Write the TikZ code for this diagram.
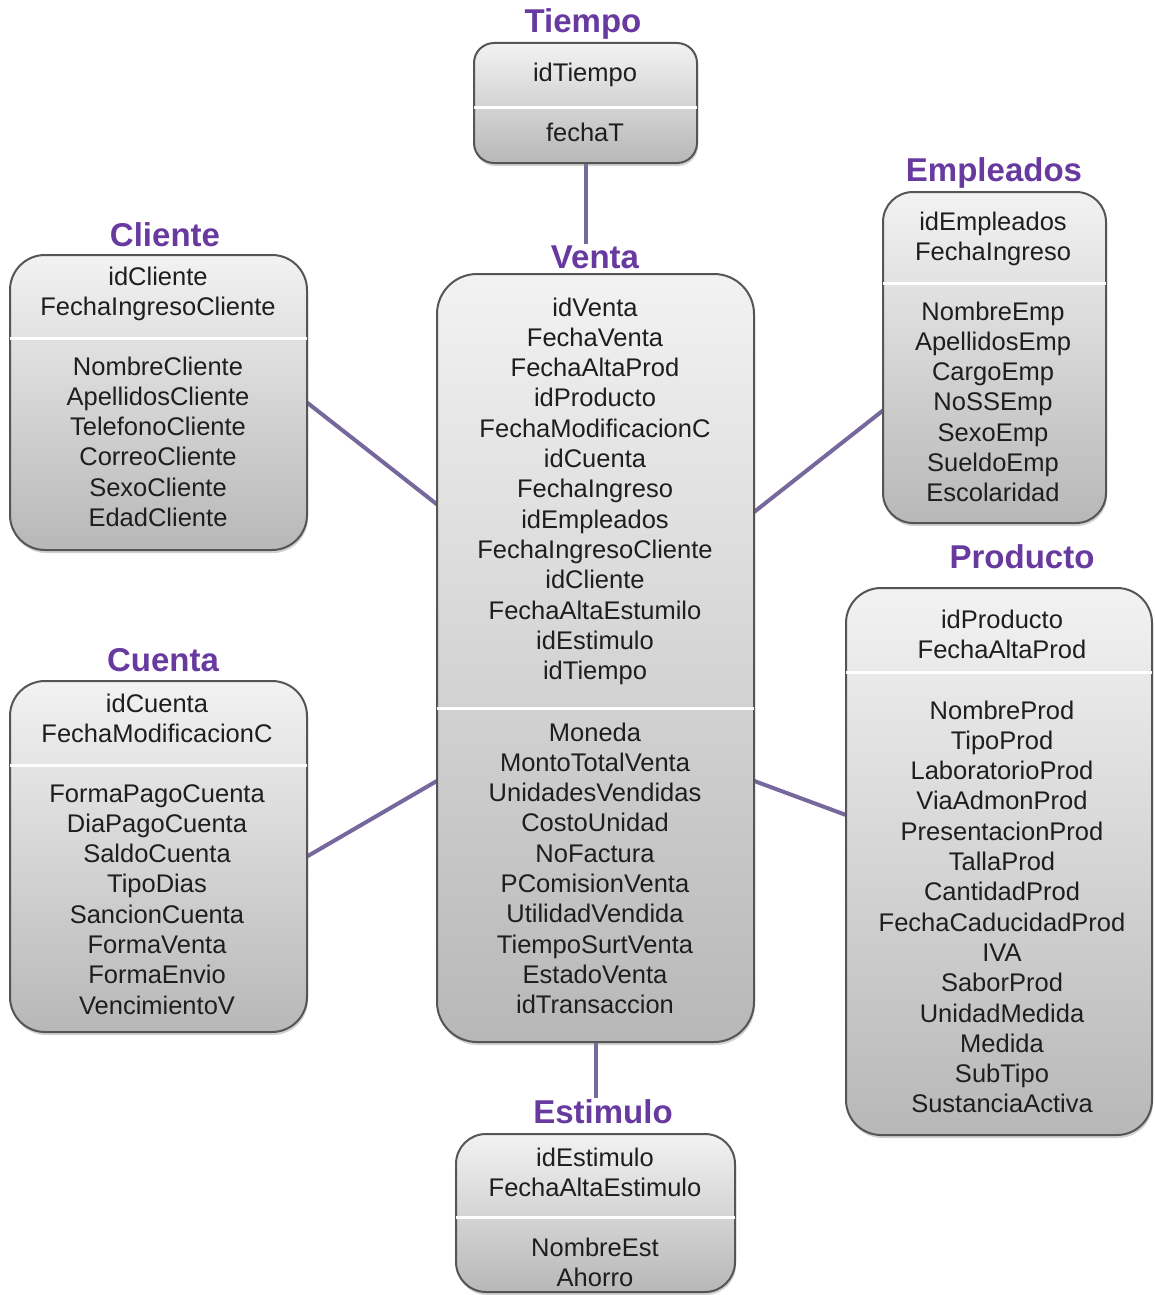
\documentclass[tikz,border=0pt]{standalone}
\usepackage{fontspec}
\setmainfont{Liberation Sans}
\usetikzlibrary{calc,backgrounds,shadows}
\definecolor{TituloMorado}{RGB}{104,58,160}
\definecolor{LineaLila}{RGB}{118,104,156}
\definecolor{TextoGris}{RGB}{30,30,30}
\definecolor{BordeGris}{RGB}{85,85,85}
\tikzset{
  tabla/.style={draw=BordeGris,line width=2pt,top color=black!5,bottom color=black!28,
    inner sep=0pt,outer sep=0pt,
    drop shadow={opacity=0.35,shadow xshift=1pt,shadow yshift=-3pt}},
  campo/.style={anchor=base,inner sep=0pt,text=TextoGris,font=\fontsize{25.5}{30}\selectfont},
  titulo/.style={anchor=base,inner sep=1pt,text=TituloMorado,font=\fontsize{33}{36}\selectfont\bfseries},
  divisor/.style={white,line width=3pt},
  enlace/.style={LineaLila,line width=4pt}
}
% filas de una tabla: prefijo, x, y de la primera fila, lista
\newcommand\filas[4]{%
  \foreach \nom [count=\i] in {#4}
    \node[campo] (#1\i) at (#2,{#3+9+(\i-1)*30.3}) {\nom};}
\begin{document}
\begin{tikzpicture}[x=1pt,y=-1pt]
\useasboundingbox (0,0) rectangle (1154,1295);

% tablas
\node[tabla,rounded corners=20pt,minimum width=223pt,minimum height=120pt] (tiempo) at (585.5,103) {};
\node[tabla,rounded corners=40pt,minimum width=317pt,minimum height=768pt] (venta) at (595.5,658) {};
\node[tabla,rounded corners=35pt,minimum width=297pt,minimum height=295pt] (cliente) at (158.5,402.5) {};
\node[tabla,rounded corners=35pt,minimum width=297pt,minimum height=351pt] (cuenta) at (158.5,856.5) {};
\node[tabla,rounded corners=30pt,minimum width=223pt,minimum height=331pt] (empleados) at (994.5,357.5) {};
\node[tabla,rounded corners=35pt,minimum width=306pt,minimum height=547pt] (producto) at (999,861.5) {};
\node[tabla,rounded corners=30pt,minimum width=279pt,minimum height=158pt] (estimulo) at (595.5,1213) {};

% divisiones entre llaves y atributos
\draw[divisor] (tiempo.west |- 0,108) -- (tiempo.east |- 0,108);
\draw[divisor] (venta.west |- 0,708) -- (venta.east |- 0,708);
\draw[divisor] (cliente.west |- 0,338) -- (cliente.east |- 0,338);
\draw[divisor] (cuenta.west |- 0,765) -- (cuenta.east |- 0,765);
\draw[divisor] (empleados.west |- 0,283) -- (empleados.east |- 0,283);
\draw[divisor] (producto.west |- 0,672) -- (producto.east |- 0,672);
\draw[divisor] (estimulo.west |- 0,1217) -- (estimulo.east |- 0,1217);

% campos
\filas{tk}{585}{73}{idTiempo}
\filas{ta}{585}{133}{fechaT}
\filas{vk}{595}{307}{idVenta,FechaVenta,FechaAltaProd,idProducto,FechaModificacionC,idCuenta,
  FechaIngreso,idEmpleados,FechaIngresoCliente,idCliente,FechaAltaEstumilo,idEstimulo,idTiempo}
\filas{va}{595}{732}{Moneda,MontoTotalVenta,UnidadesVendidas,CostoUnidad,NoFactura,
  PComisionVenta,UtilidadVendida,TiempoSurtVenta,EstadoVenta,idTransaccion}
\filas{ck}{158}{276}{idCliente,FechaIngresoCliente}
\filas{ca}{158}{366}{NombreCliente,ApellidosCliente,TelefonoCliente,CorreoCliente,SexoCliente,EdadCliente}
\filas{uk}{157}{703}{idCuenta,FechaModificacionC}
\filas{ua}{157}{793}{FormaPagoCuenta,DiaPagoCuenta,SaldoCuenta,TipoDias,SancionCuenta,
  FormaVenta,FormaEnvio,VencimientoV}
\filas{ek}{993}{221}{idEmpleados,FechaIngreso}
\filas{ea}{993}{311}{NombreEmp,ApellidosEmp,CargoEmp,NoSSEmp,SexoEmp,SueldoEmp,Escolaridad}
\filas{pk}{1002}{619}{idProducto,FechaAltaProd}
\filas{pa}{1002}{710}{NombreProd,TipoProd,LaboratorioProd,ViaAdmonProd,PresentacionProd,TallaProd,
  CantidadProd,FechaCaducidadProd,IVA,SaborProd,UnidadMedida,Medida,SubTipo,SustanciaActiva}
\filas{sk}{595}{1157}{idEstimulo,FechaAltaEstimulo}
\filas{sa}{595}{1247}{NombreEst,Ahorro}

% titulos
\node[titulo] (tTiempo) at (583,33) {Tiempo};
\node[titulo] (tVenta) at (595,268) {Venta};
\node[titulo] (tCliente) at (165,246) {Cliente};
\node[titulo] (tEmpleados) at (994,181) {Empleados};
\node[titulo] (tCuenta) at (163,671) {Cuenta};
\node[titulo] (tProducto) at (1022,568) {Producto};
\node[titulo] (tEstimulo) at (603,1123) {Estimulo};

% relaciones
\begin{scope}[on background layer]
\fill[white] (0,0) rectangle (1154,1295);
\draw[enlace] (tiempo.south) -- (tiempo.south |- tVenta.north);
\draw[enlace] (cliente.east) -- ($(venta.north west)!0.30!(venta.south west)$);
\draw[enlace] ($(empleados.north west)!0.66!(empleados.south west)$) -- ($(venta.north east)!0.31!(venta.south east)$);
\draw[enlace] (cuenta.east) -- ($(venta.north west)!0.66!(venta.south west)$);
\draw[enlace] ($(producto.north west)!0.415!(producto.south west)$) -- ($(venta.north east)!0.66!(venta.south east)$);
\draw[enlace] (venta.south) -- (venta.south |- tEstimulo.north);
\end{scope}
\end{tikzpicture}
\end{document}
